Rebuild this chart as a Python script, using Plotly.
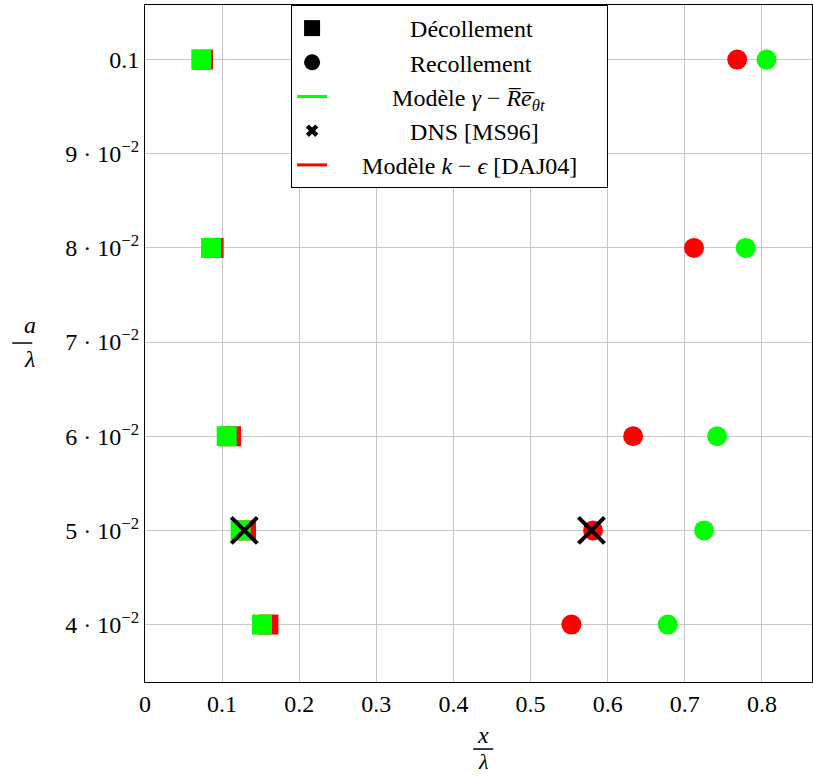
import plotly.graph_objects as go

# amplitude a/lambda
amp = [0.04, 0.05, 0.06, 0.08, 0.1]

# separation (Décollement) positions x/lambda
sep_gamma = [0.1517, 0.124, 0.106, 0.0856, 0.073]
sep_keps = [0.160, 0.131, 0.1115, 0.089, 0.0752]

# reattachment (Recollement) positions x/lambda
reat_gamma = [0.678, 0.725, 0.742, 0.779, 0.806]
reat_keps = [0.553, 0.581, 0.633, 0.712, 0.768]

# DNS [MS96]
dns_amp = [0.05, 0.05]
dns_x = [0.1288, 0.579]

ytick_vals = [0.04, 0.05, 0.06, 0.07, 0.08, 0.09, 0.1]
ytick_text = ["4 · 10<sup>−2</sup>", "5 · 10<sup>−2</sup>", "6 · 10<sup>−2</sup>",
              "7 · 10<sup>−2</sup>", "8 · 10<sup>−2</sup>", "9 · 10<sup>−2</sup>", "0.1"]
xtick_vals = [0, 0.1, 0.2, 0.3, 0.4, 0.5, 0.6, 0.7, 0.8]
xtick_text = ["0", "0.1", "0.2", "0.3", "0.4", "0.5", "0.6", "0.7", "0.8"]

GREEN = "#00ff00"
RED = "#ff0000"
FONT = "Liberation Serif"
FS = 24

fig = go.Figure()

# data traces
fig.add_trace(go.Scatter(x=sep_keps, y=amp, mode="markers", showlegend=False,
                         marker=dict(symbol="square", size=20, color=RED)))
fig.add_trace(go.Scatter(x=sep_gamma, y=amp, mode="markers", showlegend=False,
                         marker=dict(symbol="square", size=20, color=GREEN)))
fig.add_trace(go.Scatter(x=reat_keps, y=amp, mode="markers", showlegend=False,
                         marker=dict(symbol="circle", size=20, color=RED)))
fig.add_trace(go.Scatter(x=reat_gamma, y=amp, mode="markers", showlegend=False,
                         marker=dict(symbol="circle", size=20, color=GREEN)))
fig.add_trace(go.Scatter(x=dns_x, y=dns_amp, mode="markers", showlegend=False,
                         marker=dict(symbol="x-thin", size=26, color="black",
                                     line=dict(color="black", width=4))))

# legend entries
NB = "\u00a0"
LEAD = 5
fig.add_trace(go.Scatter(x=[None], y=[None], mode="markers", legendgroup="a",
                         name=NB * (LEAD + 8) + "Décollement",
                         marker=dict(symbol="square", size=16, color="black")))
fig.add_trace(go.Scatter(x=[None], y=[None], mode="markers", legendgroup="b",
                         name=NB * (LEAD + 8) + "Recollement",
                         marker=dict(symbol="circle", size=16, color="black")))
fig.add_trace(go.Scatter(x=[None], y=[None], mode="lines", legendgroup="c",
                         name=NB * (LEAD + 5) + "Modèle <i>γ</i> − <i>R̅e̅</i><sub><i>θt</i></sub>",
                         line=dict(color=GREEN, width=3)))
fig.add_trace(go.Scatter(x=[None], y=[None], mode="markers", legendgroup="d",
                         name=NB * (LEAD + 8) + "DNS [MS96]",
                         marker=dict(symbol="x", size=11, color="black",
                                     line=dict(width=0))))
fig.add_trace(go.Scatter(x=[None], y=[None], mode="lines", legendgroup="e",
                         name=NB * LEAD + "Modèle <i>k</i> − <i>ϵ</i> [DAJ04]" + NB * 4,
                         line=dict(color=RED, width=3)))

axis_common = dict(showline=True, linecolor="black", linewidth=1, mirror=True,
                   showgrid=True, gridcolor="#c8c8c8", gridwidth=1,
                   ticks="inside", ticklen=5, tickcolor="#c8c8c8", zeroline=False,
                   automargin=False,
                   tickfont=dict(family=FONT, size=FS, color="black"))

fig.update_layout(
    width=813, height=776,
    margin=dict(l=145, r=1, t=5, b=94),
    plot_bgcolor="white", paper_bgcolor="white",
    font=dict(family=FONT, size=FS, color="black"),
    xaxis=dict(range=[0, 0.865], tickvals=xtick_vals, ticktext=xtick_text, **axis_common),
    yaxis=dict(range=[0.0339, 0.1058], tickvals=ytick_vals, ticktext=ytick_text, **axis_common),
    legend=dict(x=0.219, y=1.0, xanchor="left", yanchor="top",
                bgcolor="white", bordercolor="black", borderwidth=1,
                font=dict(family=FONT, size=FS), tracegroupgap=0, itemwidth=30),
)

# axis titles as fractions
fig.add_annotation(xref="paper", yref="paper", x=-0.184, y=0.527, text="<i>a</i>",
                   showarrow=False, font=dict(family=FONT, size=FS), yanchor="middle")
fig.add_annotation(xref="paper", yref="paper", x=-0.184, y=0.477, text="<i>λ</i>",
                   showarrow=False, font=dict(family=FONT, size=FS), yanchor="middle")
fig.add_shape(type="line", xref="paper", yref="paper", x0=-0.199, x1=-0.169,
              y0=0.5007, y1=0.5007, line=dict(color="black", width=1.5))

fig.add_annotation(xref="paper", yref="paper", x=0.507, y=-0.079, text="<i>x</i>",
                   showarrow=False, font=dict(family=FONT, size=FS), yanchor="middle")
fig.add_annotation(xref="paper", yref="paper", x=0.507, y=-0.118, text="<i>λ</i>",
                   showarrow=False, font=dict(family=FONT, size=22), yanchor="middle")
fig.add_shape(type="line", xref="paper", yref="paper", x0=0.492, x1=0.522,
              y0=-0.099, y1=-0.099, line=dict(color="black", width=1.5))

fig.write_html("out.html", config={"displayModeBar": False},
               post_script="document.body.style.margin='0';")
